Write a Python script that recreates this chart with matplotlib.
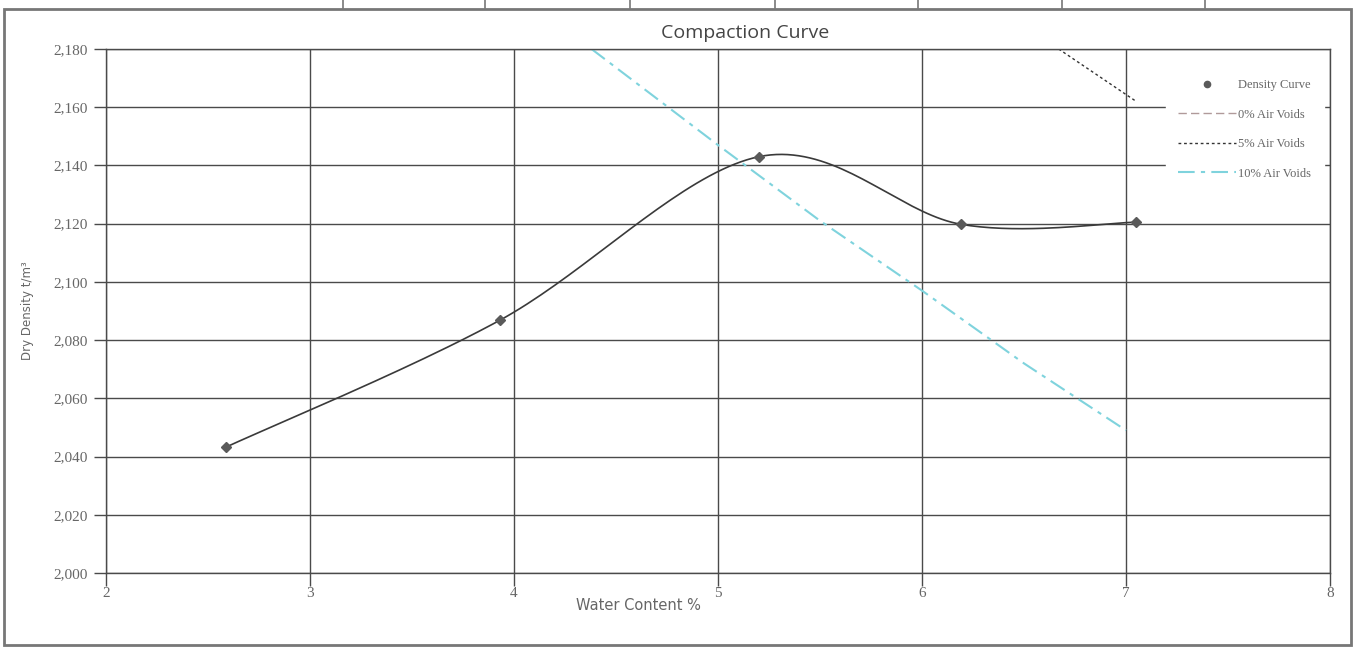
import numpy as np
import matplotlib.pyplot as plt
from matplotlib.ticker import FuncFormatter, MultipleLocator
from matplotlib.lines import Line2D

# test results
water = [2.59, 3.93, 5.20, 6.19, 7.05]
density = [2.0433, 2.0868, 2.1430, 2.1198, 2.1205]

# air voids lines
av10_w = [4.38, 5.0, 5.5, 6.0, 6.5, 7.0]
av10_d = [2.180, 2.147, 2.121, 2.097, 2.072, 2.049]
av5_w = [6.67, 7.05]
av5_d = [2.180, 2.162]
av0_w = [6.0, 7.0]
av0_d = [2.330, 2.276]

labels = ["Density Curve", "0% Air Voids", "5% Air Voids", "10% Air Voids"]


def smooth(xs, ys, n=40):
    # catmull-rom, like the excel smoothed line
    p = np.column_stack([xs, ys])
    p = np.vstack([p[0], p, p[-1]])
    out = []
    for i in range(1, len(p) - 2):
        p0, p1, p2, p3 = p[i - 1], p[i], p[i + 1], p[i + 2]
        t = np.linspace(0, 1, n)[:, None]
        c1 = p1 + (p2 - p0) / 6
        c2 = p2 - (p3 - p1) / 6
        seg = (1 - t) ** 3 * p1 + 3 * (1 - t) ** 2 * t * c1 + 3 * (1 - t) * t ** 2 * c2 + t ** 3 * p2
        out.append(seg)
    out = np.vstack(out)
    return out[:, 0], out[:, 1]


fig = plt.figure(figsize=(13.56, 6.48), dpi=100)
ax = fig.add_axes([106 / 1356, 1 - 573 / 648, (1330 - 106) / 1356, (573 - 49) / 648])

serif = "Liberation Serif"

sx, sy = smooth(water, density)
ax.plot(sx, sy, color="#3a3a3a", lw=1.2, zorder=3)
ax.plot(water, density, "D", color="#5a5a5a", ms=5, ls="none", zorder=4)
ax.plot(av0_w, av0_d, color="#b09a9a", lw=1, dashes=(6, 3))
ax.plot(av5_w, av5_d, color="#333333", lw=1, ls=(0, (2, 2)))
ax.plot(av10_w, av10_d, color="#7fd3dd", lw=1.5, dashes=(8, 3, 2, 3))

ax.set_xlim(2, 8)
ax.set_ylim(2.000, 2.180)
ax.xaxis.set_major_locator(MultipleLocator(1))
ax.yaxis.set_major_locator(MultipleLocator(0.02))
ax.yaxis.set_major_formatter(FuncFormatter(lambda v, p: f"{v:.3f}".replace(".", ",")))
ax.grid(True, color="#4a4a4a", lw=1)
ax.set_axisbelow(True)
for s in ax.spines.values():
    s.set_color("#4a4a4a")
    s.set_linewidth(1)
ax.tick_params(length=9, width=1, color="#4a4a4a", labelcolor="#666666", labelsize=11, pad=4)
ax.tick_params(axis="x", pad=1)
for t in ax.get_xticklabels() + ax.get_yticklabels():
    t.set_fontfamily(serif)

ax.set_xlabel("Water Content %", color="#666666", fontsize=10.5, x=0.435, labelpad=-1)
ax.set_ylabel("Dry Density t/m³", color="#666666", fontsize=8.5, labelpad=14)

handles = [
    Line2D([], [], marker="o", color="#5a5a5a", ls="none", ms=4.5),
    Line2D([], [], color="#b09a9a", lw=1, dashes=(6, 3)),
    Line2D([], [], color="#333333", lw=1, ls=(0, (2, 2))),
    Line2D([], [], color="#7fd3dd", lw=1.5, dashes=(8, 3, 2, 3)),
]
leg = ax.legend(handles, labels, loc="upper right", bbox_to_anchor=(1.0, 0.978), frameon=True,
                framealpha=1, edgecolor="white", fancybox=False, prop={"family": serif, "size": 9},
                labelspacing=1.4, handlelength=4.6, borderpad=1.0, handletextpad=0.2)
for t in leg.get_texts():
    t.set_color("#666666")

fig.text(745 / 1356, 1 - 33 / 648, "Compaction Curve", ha="center", va="center", fontsize=14,
         color="#444444", family="Open Sans")

# outer border and the table row above
fig.add_artist(plt.Rectangle((4 / 1356, 3 / 648), 1347 / 1356, 636 / 648, transform=fig.transFigure,
                             fill=False, edgecolor="#777777", lw=2))
for x in [343, 485, 630, 775, 918, 1062, 1205]:
    fig.add_artist(Line2D([x / 1356, x / 1356], [1 - 8 / 648, 1], transform=fig.transFigure,
                          color="#777777", lw=1.2))

fig.savefig("out.png", dpi=100)
